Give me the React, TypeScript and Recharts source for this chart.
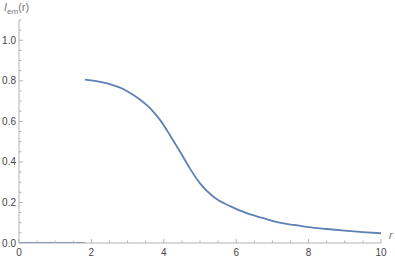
import React from "react";
import { LineChart, Line, XAxis, YAxis } from "recharts";

// r values and I_em(r)
const rZero = [0, 1.82];
const emZero = [0, 0];

const rCurve = [1.82, 2.0, 2.24, 2.61, 2.85, 3.07, 3.3, 3.53, 3.72, 3.9, 4.17, 4.45, 4.72, 5.0, 5.37, 5.83, 6.29, 6.7, 7.2, 7.6, 8, 8.5, 9, 9.5, 10];
const emCurve = [0.806, 0.802, 0.795, 0.778, 0.762, 0.74, 0.713, 0.68, 0.646, 0.606, 0.532, 0.45, 0.368, 0.294, 0.228, 0.182, 0.147, 0.125, 0.1, 0.089, 0.078, 0.069, 0.061, 0.054, 0.048];

const xTicks = [0, 0.5, 1, 1.5, 2, 2.5, 3, 3.5, 4, 4.5, 5, 5.5, 6, 6.5, 7, 7.5, 8, 8.5, 9, 9.5, 10];
const xMajor = [0, 2, 4, 6, 8, 10];
const yTicks = [0, 0.05, 0.1, 0.15, 0.2, 0.25, 0.3, 0.35, 0.4, 0.45, 0.5, 0.55, 0.6, 0.65, 0.7, 0.75, 0.8, 0.85, 0.9, 0.95, 1.0, 1.05, 1.1];
const yMajor = [0, 0.2, 0.4, 0.6, 0.8, 1.0];

const zeroData = rZero.map((r, i) => ({ r, v: emZero[i] }));
const curveData = rCurve.map((r, i) => ({ r, v: emCurve[i] }));

const AXIS = "#b3b3b3";
const LABEL = "#444";
const FONT = "'Liberation Sans', Arial, sans-serif";

const isMajor = (list: number[], v: number) => list.some((m) => Math.abs(m - v) < 1e-6);

function XTick(props: any) {
  const { x, y, payload } = props;
  const major = isMajor(xMajor, payload.value);
  return (
    <g>
      <line x1={x} x2={x} y1={y} y2={y - (major ? 4 : 2.5)} stroke={AXIS} strokeWidth={1} />
      {major && (
        <text x={x} y={y + 13} textAnchor="middle" fontSize={10} fontFamily={FONT} fill={LABEL}>
          {payload.value}
        </text>
      )}
    </g>
  );
}

function YTick(props: any) {
  const { x, y, payload } = props;
  const major = isMajor(yMajor, payload.value);
  return (
    <g>
      <line x1={x} x2={x + (major ? 4 : 2.5)} y1={y} y2={y} stroke={AXIS} strokeWidth={1} />
      {major && (
        <text x={x - 3} y={y + 3.5} textAnchor="end" fontSize={10} fontFamily={FONT} fill={LABEL}>
          {payload.value.toFixed(1)}
        </text>
      )}
    </g>
  );
}

export default function App() {
  return (
    <div style={{ position: "relative", width: 395, height: 261, background: "#fff" }}>
      <style>{"body{margin:0}"}</style>
      <LineChart width={395} height={261} margin={{ top: 20, right: 14, left: 0, bottom: 0 }}>
        <XAxis
          type="number"
          dataKey="r"
          domain={[0, 10]}
          ticks={xTicks}
          interval={0}
          height={18}
          tickSize={0}
          tickMargin={0}
          tickLine={false}
          tick={<XTick />}
          stroke={AXIS}
          allowDataOverflow
        />
        <YAxis
          type="number"
          dataKey="v"
          domain={[0, 1.1]}
          ticks={yTicks}
          interval={0}
          width={19}
          tickSize={0}
          tickMargin={0}
          tickLine={false}
          tick={<YTick />}
          stroke={AXIS}
          allowDataOverflow
        />
        <Line data={zeroData} dataKey="v" type="linear" stroke="#5E81B5" strokeWidth={1.8} dot={false} isAnimationActive={false} />
        <Line data={curveData} dataKey="v" type="monotone" stroke="#5E81B5" strokeWidth={1.8} dot={false} isAnimationActive={false} />
      </LineChart>
      <div style={{ position: "absolute", left: 4, top: 1, fontFamily: FONT, fontSize: 11, color: "#777", whiteSpace: "nowrap" }}>
        <i>I</i>
        <sub style={{ fontSize: 8 }}>em</sub>(r)
      </div>
      <div style={{ position: "absolute", left: 389, top: 229, fontFamily: FONT, fontSize: 11, color: "#777", fontStyle: "italic" }}>
        r
      </div>
    </div>
  );
}
